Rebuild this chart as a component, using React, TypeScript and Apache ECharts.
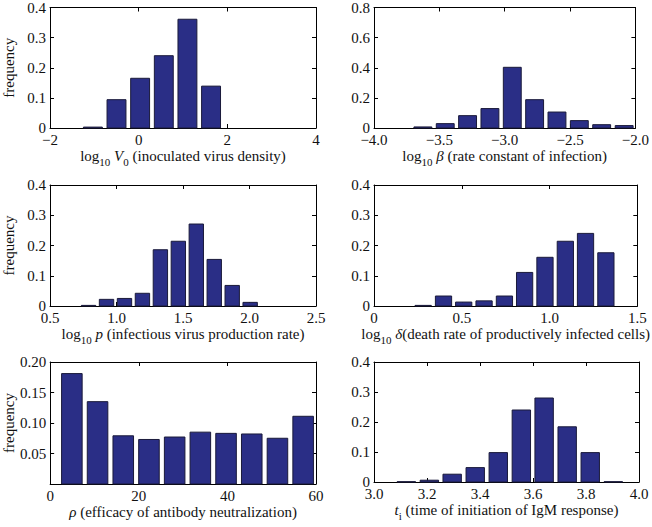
import React, { useEffect, useRef } from "react";
import * as echarts from "echarts";

// ---- data (bin centres and frequencies) ----
const v0Centers = [-1.033, -0.5, 0.033, 0.567, 1.1, 1.633];
const v0Freq = [0.003, 0.094, 0.165, 0.24, 0.361, 0.139];

const betaCenters = [-3.626, -3.455, -3.284, -3.113, -2.942, -2.771, -2.6, -2.429, -2.258, -2.086];
const betaFreq = [0.007, 0.029, 0.082, 0.129, 0.403, 0.188, 0.106, 0.049, 0.022, 0.016];

const pCenters = [0.79, 0.925, 1.06, 1.195, 1.33, 1.465, 1.6, 1.735, 1.87, 2.005];
const pFreq = [0.002, 0.022, 0.025, 0.042, 0.186, 0.214, 0.271, 0.154, 0.068, 0.012];

const deltaCenters = [0.28, 0.396, 0.511, 0.627, 0.743, 0.858, 0.974, 1.09, 1.205, 1.321];
const deltaFreq = [0.002, 0.033, 0.013, 0.017, 0.033, 0.111, 0.161, 0.214, 0.24, 0.176];

const rhoCenters = [4.9, 10.7, 16.5, 22.3, 28.1, 33.9, 39.7, 45.5, 51.3, 57.1];
const rhoFreq = [0.181, 0.135, 0.079, 0.073, 0.077, 0.085, 0.083, 0.082, 0.075, 0.111];

const tiCenters = [3.122, 3.209, 3.295, 3.382, 3.469, 3.556, 3.642, 3.729, 3.816, 3.903];
const tiFreq = [0.001, 0.006, 0.026, 0.048, 0.098, 0.24, 0.28, 0.184, 0.098, 0.001];

const xNames = [
  "{n|log}{s|10}{n| }{i|V}{s|0}{n| (inoculated virus density)}",
  "{n|log}{s|10}{n| }{i|β}{n| (rate constant of infection)}",
  "{n|log}{s|10}{n| }{i|p}{n| (infectious virus production rate)}",
  "{n|log}{s|10}{n| }{i|δ}{n|(death rate of productively infected cells)}",
  "{i|ρ}{n| (efficacy of antibody neutralization)}",
  "{i|t}{s|i}{n| (time of initiation of IgM response)}",
];

const FONT = "'Liberation Serif', 'DejaVu Serif', serif";
const minus = (s: string) => s.replace("-", "\u2212");

type Panel = {
  centers: number[];
  freq: number[];
  grid: { left: number; top: number; width: number; height: number };
  xMin: number; xMax: number; xInt: number; xFmt: (v: number) => string;
  yMax: number; yInt: number; yFmt: (v: number) => string;
  yName: boolean;
};

const f1 = (v: number) => (v === 0 ? "0" : minus(v.toFixed(1)));
const f0 = (v: number) => minus(String(Math.round(v)));

const panels: Panel[] = [
  { centers: v0Centers, freq: v0Freq, grid: { left: 50, top: 7, width: 266, height: 121 },
    xMin: -2, xMax: 4, xInt: 2, xFmt: f0, yMax: 0.4, yInt: 0.1, yFmt: f1, yName: true },
  { centers: betaCenters, freq: betaFreq, grid: { left: 374, top: 7, width: 265, height: 121 },
    xMin: -4, xMax: -2, xInt: 0.5, xFmt: (v) => minus(v.toFixed(1)), yMax: 0.8, yInt: 0.2, yFmt: f1, yName: false },
  { centers: pCenters, freq: pFreq, grid: { left: 50, top: 185, width: 266, height: 121 },
    xMin: 0.5, xMax: 2.5, xInt: 0.5, xFmt: (v) => v.toFixed(1), yMax: 0.4, yInt: 0.1, yFmt: f1, yName: true },
  { centers: deltaCenters, freq: deltaFreq, grid: { left: 374, top: 185, width: 265, height: 121 },
    xMin: 0, xMax: 1.5, xInt: 0.5, xFmt: f1, yMax: 0.4, yInt: 0.1, yFmt: f1, yName: false },
  { centers: rhoCenters, freq: rhoFreq, grid: { left: 50, top: 362, width: 266, height: 122 },
    xMin: 0, xMax: 60, xInt: 20, xFmt: f0, yMax: 0.2, yInt: 0.05, yFmt: (v) => (v === 0 ? "" : v.toFixed(2)), yName: true },
  { centers: tiCenters, freq: tiFreq, grid: { left: 374, top: 362, width: 265, height: 120 },
    xMin: 3, xMax: 4, xInt: 0.2, xFmt: (v) => v.toFixed(1), yMax: 0.4, yInt: 0.1, yFmt: f1, yName: false },
];

const rich = {
  n: { fontFamily: FONT, fontSize: 15, lineHeight: 15, verticalAlign: "top", color: "#111" },
  i: { fontFamily: FONT, fontSize: 15, lineHeight: 15, fontStyle: "italic", verticalAlign: "top", color: "#111" },
  s: { fontFamily: FONT, fontSize: 11, lineHeight: 11, padding: [8, 0, 0, 0], verticalAlign: "top", color: "#111" },
};

function buildOption() {
  const grid: any[] = [];
  const xAxis: any[] = [];
  const yAxis: any[] = [];
  const series: any[] = [];
  const tickStyle = { show: true, inside: true, length: 4, lineStyle: { color: "#000", width: 1 } };
  const lineStyle = { show: true, onZero: false, lineStyle: { color: "#000", width: 1 } };
  panels.forEach((p, k) => {
    grid.push({ ...p.grid, containLabel: false });
    const bw = (p.centers[p.centers.length - 1] - p.centers[0]) / (p.centers.length - 1);
    xAxis.push({
      type: "value", gridIndex: k, position: "bottom", min: p.xMin, max: p.xMax, interval: p.xInt,
      axisLine: lineStyle, axisTick: tickStyle, splitLine: { show: false },
      axisLabel: { formatter: p.xFmt, fontFamily: FONT, fontSize: 15, color: "#111", margin: 4, showMinLabel: true, showMaxLabel: true },
      name: xNames[k], nameLocation: "middle", nameGap: 20,
      nameTextStyle: { rich },
    });
    xAxis.push({
      type: "value", gridIndex: k, position: "top", min: p.xMin, max: p.xMax, interval: p.xInt,
      axisLine: lineStyle, axisTick: tickStyle, splitLine: { show: false }, axisLabel: { show: false },
    });
    yAxis.push({
      type: "value", gridIndex: k, position: "left", min: 0, max: p.yMax, interval: p.yInt,
      axisLine: lineStyle, axisTick: tickStyle, splitLine: { show: false },
      axisLabel: { formatter: p.yFmt, fontFamily: FONT, fontSize: 15, color: "#111", margin: 4, showMinLabel: true, showMaxLabel: true },
      name: p.yName ? "frequency" : "", nameLocation: "middle", nameGap: 34, nameRotate: 90,
      nameTextStyle: { fontFamily: FONT, fontSize: 15, color: "#111" },
    });
    yAxis.push({
      type: "value", gridIndex: k, position: "right", min: 0, max: p.yMax, interval: p.yInt,
      axisLine: lineStyle, axisTick: tickStyle, splitLine: { show: false }, axisLabel: { show: false },
    });
    series.push({
      type: "custom",
      xAxisIndex: 2 * k,
      yAxisIndex: 2 * k,
      data: p.centers.map((c, j) => [c, p.freq[j]]),
      renderItem: (params: any, api: any) => {
        const c = api.value(0);
        const v = api.value(1);
        const a = api.coord([c - bw * 0.4, v]);
        const b = api.coord([c + bw * 0.4, 0]);
        return {
          type: "rect",
          shape: { x: a[0], y: a[1], width: b[0] - a[0], height: b[1] - a[1] },
          style: { fill: "#2a2e86", stroke: "#1a1a3a", lineWidth: 1 },
        };
      },
    });
  });
  return { animation: false, backgroundColor: "#fff", grid, xAxis, yAxis, series };
}

export default function App() {
  const ref = useRef<HTMLDivElement>(null);
  useEffect(() => {
    if (!ref.current) return;
    const chart = echarts.init(ref.current, undefined, { renderer: "svg" });
    chart.setOption(buildOption() as any);
    return () => chart.dispose();
  }, []);
  return (
    <div
      ref={ref}
      style={{ position: "fixed", left: 0, top: 0, width: 652, height: 527, background: "#fff" }}
    />
  );
}
